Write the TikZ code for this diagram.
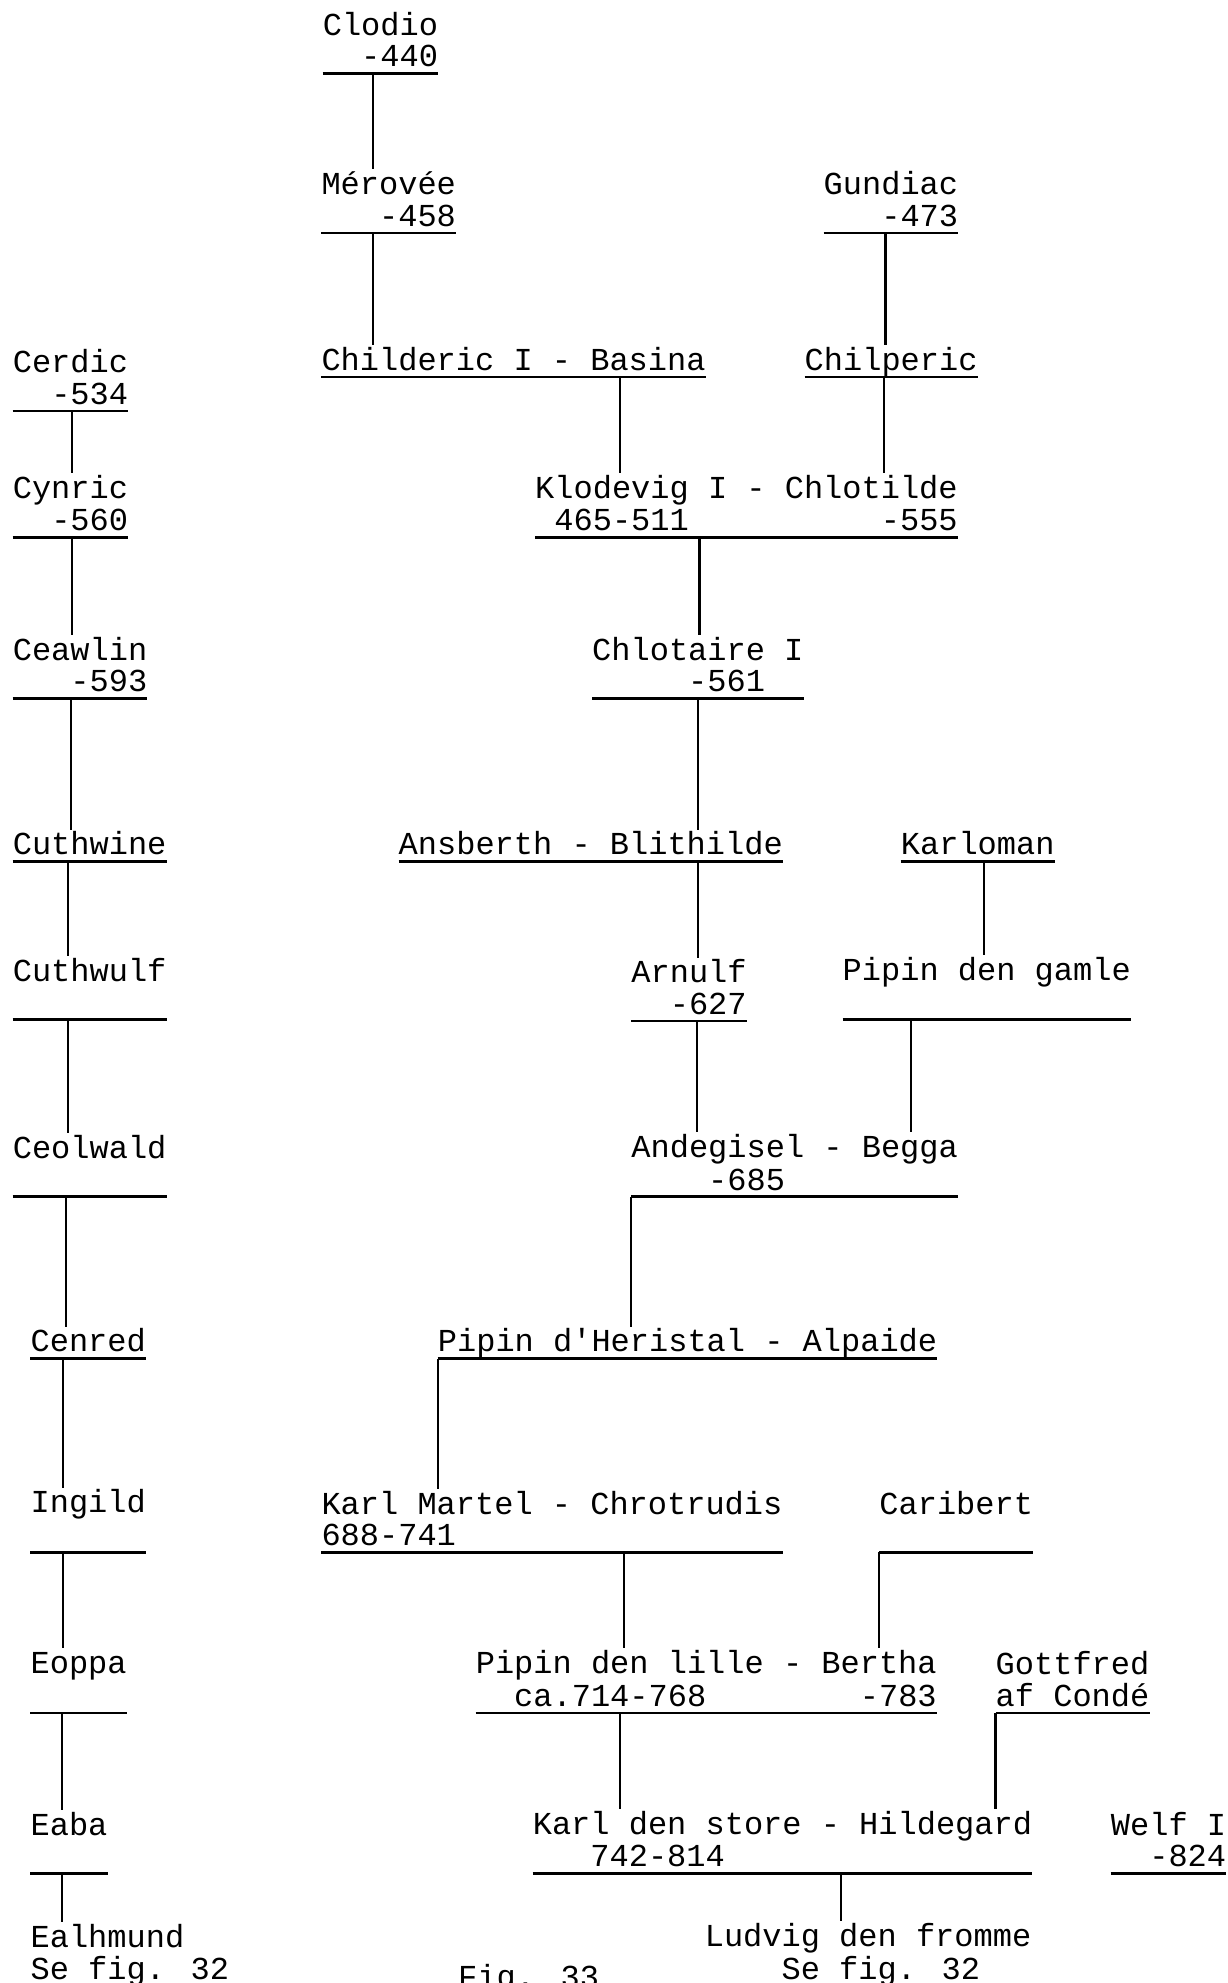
\documentclass[tikz,border=0pt]{standalone}
\usepackage{fontspec}
\newfontfamily\tw{Liberation Mono}
\newcommand{\twfont}{\tw\fontsize{32}{31.5}\selectfont}
\newcommand{\tst}{\rule[-6.5pt]{0pt}{31.5pt}}
\tikzset{
	pers/.style={font=\twfont, align=left, inner sep=0pt, anchor=south west},
	bar/.style={line width=2.6pt},
	stem/.style={line width=2.2pt}
}
\begin{document}
\begin{tikzpicture}[x=1pt,y=-1pt]
					\useasboundingbox (0,0) rectangle (1227,1983);
					\node[pers] (clodio) at (322.6,73.4) {\tst Clodio\\\tst~~-440};
					\node[pers] (merovee) at (321.3,232.8) {\tst Mérovée\\\tst~~~-458};
					\node[pers] (gundiac) at (823.5,232.8) {\tst Gundiac\\\tst~~~-473};
					\node[pers] (childeric) at (321.3,377) {\tst Childeric I - Basina};
					\node[pers] (chilperic) at (804.5,377) {\tst Chilperic};
					\node[pers] (klodevig) at (535,537.6) {\tst Klodevig I - Chlotilde\\\tst~465-511~~~~~~~~~~-555};
					\node[pers] (chlotaire) at (592,698.3) {\tst Chlotaire I\\\tst~~~~~-561};
					\node[pers] (ansberth) at (398.5,861.5) {\tst Ansberth - Blithilde};
					\node[pers] (karloman) at (900.7,861.5) {\tst Karloman};
					\node[pers] (arnulf) at (631.2,1020.9) {\tst Arnulf\\\tst~~-627};
					\node[pers] (gamle) at (842.5,1019.6) {\tst Pipin den gamle\\\tst};
					\node[pers] (andegisel) at (631.2,1196.7) {\tst Andegisel - Begga\\\tst~~~~-685};
					\node[pers] (heristal) at (437.7,1358.6) {\tst Pipin d'Heristal - Alpaide};
					\node[pers] (martel) at (321.3,1552.2) {\tst Karl Martel - Chrotrudis\\\tst 688-741};
					\node[pers] (caribert) at (879.2,1552.2) {\tst Caribert\\\tst};
					\node[pers] (lille) at (475.6,1712.8) {\tst Pipin den lille - Bertha\\\tst~~ca.714-768~~~~~~~~-783};
					\node[pers] (gottfred) at (995.5,1712.8) {\tst Gottfred\\\tst af Condé};
					\node[pers] (store) at (532.6,1873.5) {\tst Karl den store - Hildegard\\\tst~~~742-814};
					\node[pers] (welf) at (1110.7,1873.5) {\tst Welf I\\\tst~~-824};
					\node[pers] (ludvig) at (704.6,1986) {\tst Ludvig den fromme\\\tst~~~~Se fig. 32};
					\node[pers,anchor=base west] (fig) at (458,1987) {Fig. 33};
					\node[pers] (cerdic) at (12.65,411) {\tst Cerdic\\\tst~~-534};
					\node[pers] (cynric) at (12.65,537.6) {\tst Cynric\\\tst~~-560};
					\node[pers] (ceawlin) at (12.65,698.3) {\tst Ceawlin\\\tst~~~-593};
					\node[pers] (cuthwine) at (12.65,861.5) {\tst Cuthwine};
					\node[pers] (cuthwulf) at (12.65,1019.6) {\tst Cuthwulf\\\tst};
					\node[pers] (ceolwald) at (12.65,1196.7) {\tst Ceolwald\\\tst};
					\node[pers] (cenred) at (30.4,1358.6) {\tst Cenred};
					\node[pers] (ingild) at (30.4,1552.2) {\tst Ingild\\\tst};
					\node[pers] (eoppa) at (30.4,1712.8) {\tst Eoppa\\\tst};
					\node[pers] (eaba) at (30.4,1873.5) {\tst Eaba\\\tst};
					\node[pers] (ealhmund) at (30.4,1986) {\tst Ealhmund\\\tst Se fig. 32};
					\foreach \n in {clodio,merovee,gundiac,childeric,chilperic,klodevig,chlotaire,ansberth,karloman,arnulf,gamle,andegisel,heristal,martel,caribert,lille,gottfred,store,welf,cerdic,cynric,ceawlin,cuthwine,cuthwulf,ceolwald,cenred,ingild,eoppa,eaba}
						\draw[bar] (\n.south west)--(\n.south east);
					\foreach \a/\b/\dx in {clodio/merovee/50.4,merovee/childeric/51.7,childeric/klodevig/298.7,gundiac/chilperic/62,chilperic/klodevig/79.5,klodevig/chlotaire/164.5,chlotaire/ansberth/106,ansberth/arnulf/299.5,karloman/gamle/83.3,arnulf/andegisel/65.8,gamle/andegisel/68.5,andegisel/heristal/0,heristal/martel/0,martel/lille/302.3,caribert/lille/0,lille/store/144.4,gottfred/store/0,store/ludvig/308.4,cerdic/cynric/59.4,cynric/ceawlin/59.4,ceawlin/cuthwine/58,cuthwine/cuthwulf/55.7,cuthwulf/ceolwald/55.7,ceolwald/cenred/53,cenred/ingild/32.6,ingild/eoppa/32.6,eoppa/eaba/31.6,eaba/ealhmund/31.6}
						\draw[stem] ([xshift=\dx pt]\a.south west) coordinate (t)--(t |- \b.north);
			\end{tikzpicture}
\end{document}
